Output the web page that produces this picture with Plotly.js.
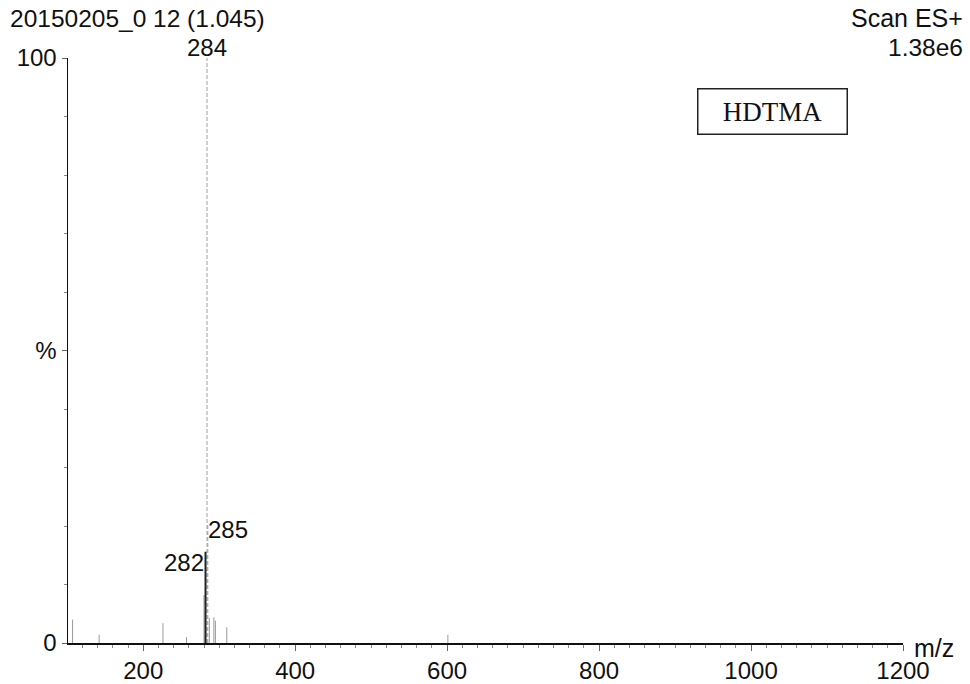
<!DOCTYPE html>
<html>
<head>
<meta charset="utf-8">
<script src="https://cdn.plot.ly/plotly-3.0.1.min.js"></script>
<style>html,body{margin:0;padding:0;background:#fff;}#chart{width:970px;height:684px;}</style>
</head>
<body>
<div id="chart"></div>
<script>
// m/z values and relative intensities (%)
const mz        = [107, 142, 226, 257, 280, 282, 284, 285, 287, 293, 295, 310, 601];
const intensity = [4.0, 1.4, 3.4, 1.0, 8.2, 15.6, 100, 20.5, 4.3, 4.4, 3.8, 2.7, 1.4];
const sampleTitle = "20150205_0 12 (1.045)";
const scanMode = "Scan ES+";
const scanMax = "1.38e6";
const compound = "HDTMA";
const xTickVals = [200, 400, 600, 800, 1000, 1200];
const yTickVals = [0, 50, 100];
const yTickText = ["0", "%", "100"];

function sticks(filter) {
  const xs = [], ys = [];
  mz.forEach((m, i) => {
    if (filter(m, i)) { xs.push(m, m, null); ys.push(0, intensity[i], null); }
  });
  return {x: xs, y: ys};
}
const basePeak = mz[intensity.indexOf(Math.max(...intensity))];
const minor = sticks((m) => m !== basePeak && m !== 282 && m !== 285);
const base = sticks((m) => m === basePeak || m === 285);
const strong = sticks((m) => m === 282);

const traces = [
  {x: minor.x, y: minor.y, mode: 'lines', line: {color: '#9a9a9a', width: 1}, hoverinfo: 'skip'},
  {x: base.x, y: base.y, mode: 'lines', line: {color: '#a0a0a0', width: 1, dash: '4px,2px'}, hoverinfo: 'skip'},
  {x: strong.x, y: strong.y, mode: 'lines', line: {color: '#222', width: 2}, hoverinfo: 'skip'}
];

const F = 'Arial, "Liberation Sans", sans-serif';
const val = (m) => intensity[mz.indexOf(m)];
const annotations = [
  {xref: 'paper', yref: 'paper', x: -0.072, y: 1.068, xanchor: 'left', yanchor: 'middle', text: sampleTitle, showarrow: false, font: {size: 24.5, color: '#111', family: F}},
  {xref: 'paper', yref: 'paper', x: 1.0745, y: 1.068, xanchor: 'right', yanchor: 'middle', text: scanMode, showarrow: false, font: {size: 25, color: '#111', family: F}},
  {xref: 'paper', yref: 'paper', x: 1.0745, y: 1.018, xanchor: 'right', yanchor: 'middle', text: scanMax, showarrow: false, font: {size: 24.5, color: '#111', family: F}},
  {xref: 'x', yref: 'y', x: 284, y: val(284), xanchor: 'center', yanchor: 'bottom', yshift: -5, text: '284', showarrow: false, font: {size: 24, color: '#111', family: F}},
  {xref: 'x', yref: 'y', x: 285, y: val(285), xanchor: 'left', yanchor: 'middle', xshift: -2, yshift: -6, text: '285', showarrow: false, font: {size: 24, color: '#111', family: F}},
  {xref: 'x', yref: 'y', x: 282, y: val(282), xanchor: 'right', yanchor: 'middle', xshift: 0, yshift: -11, text: '282', showarrow: false, font: {size: 24, color: '#111', family: F}},
  {xref: 'paper', yref: 'paper', x: 1.011, y: -0.008, xanchor: 'left', yanchor: 'middle', text: 'm/z', showarrow: false, font: {size: 25, color: '#111', family: F}},
  {xref: 'paper', yref: 'paper', x: 0.8435, y: 0.9094, xanchor: 'center', yanchor: 'middle', text: compound, showarrow: false,
   font: {size: 27, color: '#111', family: '"Liberation Serif", "Times New Roman", serif'},
   bordercolor: '#222', borderwidth: 1.5, width: 146, height: 42}
];

const layout = {
  width: 970, height: 684,
  margin: {l: 68, r: 67, t: 58, b: 41},
  paper_bgcolor: '#fff', plot_bgcolor: '#fff',
  showlegend: false,
  font: {family: F, size: 24, color: '#111'},
  xaxis: {
    range: [101, 1200], showgrid: false, zeroline: false,
    showline: true, linecolor: '#111', linewidth: 1.5,
    tickmode: 'array', tickvals: xTickVals, ticks: 'outside', ticklen: 6, tickcolor: '#666', tickwidth: 1,
    minor: {tickmode: 'linear', tick0: 0, dtick: 20, ticks: 'outside', ticklen: 3, tickcolor: '#888', showgrid: false},
    tickfont: {size: 24, family: F, color: '#111'}
  },
  yaxis: {
    range: [0, 100], showgrid: false, zeroline: false,
    showline: true, linecolor: '#111', linewidth: 1.5,
    tickmode: 'array', tickvals: yTickVals, ticktext: yTickText, ticks: 'outside', ticklen: 5, tickcolor: '#666',
    minor: {tickmode: 'linear', tick0: 0, dtick: 10, ticks: 'outside', ticklen: 3, tickcolor: '#888', showgrid: false},
    tickfont: {size: 24, family: F, color: '#111'}
  },
  annotations: annotations
};

Plotly.newPlot('chart', traces, layout, {displayModeBar: false, staticPlot: true});
</script>
</body>
</html>
